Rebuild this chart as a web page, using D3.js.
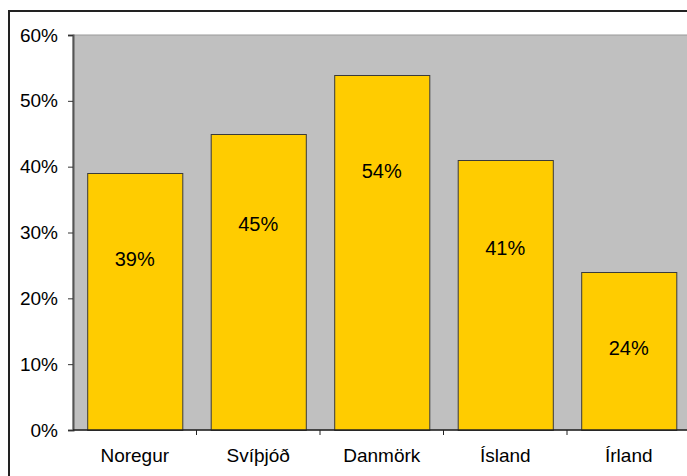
<!DOCTYPE html>
<html>
<head>
<meta charset="utf-8">
<script src="https://cdn.jsdelivr.net/npm/d3@7"></script>
<style>
  html, body { margin: 0; padding: 0; background: #fff; }
  svg { display: block; font-family: "Liberation Sans", Arial, sans-serif; }
</style>
</head>
<body>
<div id="chart"></div>
<script>
const countries = ["Noregur", "Svíþjóð", "Danmörk", "Ísland", "Írland"];
const shares = [39, 45, 54, 41, 24];
const yTicks = [0, 10, 20, 30, 40, 50, 60];

const width = 687;
const height = 476;
const plot = { left: 73, top: 35, right: 690.5, bottom: 430 };

const svg = d3.select("#chart")
  .append("svg")
  .attr("width", width)
  .attr("height", height);

// outer chart frame (runs off the right / bottom edges)
svg.append("rect")
  .attr("x", 9)
  .attr("y", 11)
  .attr("width", 700)
  .attr("height", 500)
  .attr("fill", "none")
  .attr("stroke", "#222")
  .attr("stroke-width", 2);

const x = d3.scaleBand()
  .domain(countries)
  .range([plot.left, plot.right])
  .paddingInner(0.23)
  .paddingOuter(0.115);

const y = d3.scaleLinear()
  .domain([0, 60])
  .range([plot.bottom, plot.top]);

svg.append("rect")
  .attr("x", plot.left)
  .attr("y", plot.top)
  .attr("width", plot.right - plot.left)
  .attr("height", plot.bottom - plot.top)
  .attr("fill", "#c0c0c0")
  .attr("stroke", "#999")
  .attr("stroke-width", 1);

const data = countries.map((c, i) => ({ country: c, value: shares[i] }));

svg.append("g")
  .selectAll("rect")
  .data(data)
  .join("rect")
  .attr("x", d => x(d.country) + 0.5)
  .attr("y", d => Math.round(y(d.value)) + 0.5)
  .attr("width", x.bandwidth())
  .attr("height", d => plot.bottom - Math.round(y(d.value)))
  .attr("fill", "#ffcc00")
  .attr("stroke", "#3a3a3a")
  .attr("stroke-width", 1);

// labels sit a bit above the bar middle, as in the source
svg.append("g")
  .selectAll("text")
  .data(data)
  .join("text")
  .attr("x", d => x(d.country) + x.bandwidth() / 2)
  .attr("y", d => y(0.9 * d.value - 9.2))
  .attr("dy", "0.35em")
  .attr("text-anchor", "middle")
  .attr("font-size", 20)
  .attr("fill", "#000")
  .text(d => d.value + "%");

// y axis
const yAxis = svg.append("g")
  .attr("transform", `translate(${plot.left}, 0)`)
  .call(d3.axisLeft(y).tickValues(yTicks).tickSize(5).tickPadding(10)
    .tickFormat(d => d + "%"));
yAxis.select(".domain").attr("stroke", "#555").attr("stroke-width", 2);
yAxis.selectAll(".tick line").attr("stroke", "#333");
yAxis.selectAll("text")
  .attr("font-size", 19)
  .attr("font-family", "Liberation Sans, Arial, sans-serif")
  .attr("fill", "#000");

// x axis: ticks at category boundaries
const bounds = countries.map(c => x(c) - x.step() * x.paddingOuter());
const xg = svg.append("g").attr("transform", `translate(0, ${plot.bottom})`);
xg.append("line")
  .attr("x1", plot.left)
  .attr("x2", width)
  .attr("stroke", "#222")
  .attr("stroke-width", 1.5);
xg.selectAll("line.tick")
  .data(bounds.slice(1))
  .join("line")
  .attr("class", "tick")
  .attr("x1", d => d)
  .attr("x2", d => d)
  .attr("y1", 0)
  .attr("y2", 5)
  .attr("stroke", "#222");
xg.selectAll("text")
  .data(countries)
  .join("text")
  .attr("x", d => x(d) + x.bandwidth() / 2)
  .attr("y", 32)
  .attr("text-anchor", "middle")
  .attr("font-size", 19)
  .attr("fill", "#000")
  .text(d => d);
</script>
</body>
</html>
